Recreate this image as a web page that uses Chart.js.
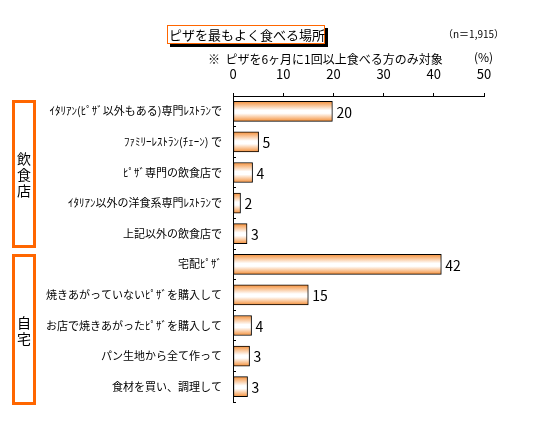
<!DOCTYPE html>
<html lang="ja">
<head>
<meta charset="utf-8">
<script src="https://cdn.jsdelivr.net/npm/chart.js@4/dist/chart.umd.min.js"></script>
<style>
  body { margin: 0; background: #fff; font-family: "Noto Sans CJK JP", sans-serif; }
  #wrap { position: relative; width: 534px; height: 428px; }
  #wrap canvas { position: absolute; left: 0; top: 0; }
  .txt { position: absolute; color: #000; white-space: nowrap; line-height: 1; }
  #title {
    left: 167px; top: 25px; width: 155px; height: 17px;
    border: 1px solid #FF6600; background: #fff;
    box-shadow: 3px 3px 0 #000;
    font-size: 13px; line-height: 17px; padding-left: 1px;
  }
  .group {
    position: absolute; left: 12px; width: 18px;
    border: 3px solid #FF6600;
    display: flex; align-items: center; justify-content: center;
    font-size: 14px; line-height: 16px; text-align: center;
  }
</style>
</head>
<body>
<div id="wrap">
  <canvas id="chart" width="534" height="428"></canvas>
  <div class="txt" id="title">ピザを最もよく食べる場所</div>
  <div class="txt" style="left:443px; top:29px; font-size:10px;">（n＝1,915）</div>
  <div class="txt" style="left:208px; top:53px; font-size:12px;">※&nbsp;&nbsp;ピザを6ヶ月に1回以上食べる方のみ対象</div>
  <div class="txt" style="left:474px; top:51px; font-size:12px;">(%)</div>
  <div class="group" style="top:100px; height:142px;">飲<br>食<br>店</div>
  <div class="group" style="top:254px; height:145px;">自<br>宅</div>
</div>
<script>
// --- data ---
const categories = [
  'ｲﾀﾘｱﾝ(ﾋﾟｻﾞ以外もある)専門ﾚｽﾄﾗﾝで',
  'ﾌｧﾐﾘｰﾚｽﾄﾗﾝ(ﾁｪｰﾝ) で',
  'ﾋﾟｻﾞ専門の飲食店で',
  'ｲﾀﾘｱﾝ以外の洋食系専門ﾚｽﾄﾗﾝで',
  '上記以外の飲食店で',
  '宅配ﾋﾟｻﾞ',
  '焼きあがっていないﾋﾟｻﾞを購入して',
  'お店で焼きあがったﾋﾟｻﾞを購入して',
  'パン生地から全て作って',
  '食材を買い、調理して',
];
const shares = [19.8, 5.1, 3.9, 1.5, 2.8, 41.5, 15.0, 3.7, 3.3, 2.9];
const valueLabels = ['20', '5', '4', '2', '3', '42', '15', '4', '3', '3'];
const xTicks = [0, 10, 20, 30, 40, 50];

const FONT = '"Noto Sans CJK JP", sans-serif';
const ORANGE = '#F4903A';
const BAR_H = 20;

// vertical orange-white-orange fill per bar, placed from the y scale
function barFill(ctx) {
  const chart = ctx.chart;
  const yScale = chart.scales && chart.scales.y;
  if (ctx.type !== 'data' || !yScale || !chart.chartArea) return ORANGE;
  const cy = yScale.getPixelForValue(ctx.dataIndex);
  const g = chart.ctx.createLinearGradient(0, cy - BAR_H / 2, 0, cy + BAR_H / 2);
  g.addColorStop(0, ORANGE);
  g.addColorStop(0.45, '#FFFFFF');
  g.addColorStop(0.6, '#FFFFFF');
  g.addColorStop(1, ORANGE);
  return g;
}

// numbers to the right of each bar
const valueLabelPlugin = {
  id: 'valueLabels',
  afterDatasetsDraw(chart) {
    const c = chart.ctx;
    const meta = chart.getDatasetMeta(0);
    c.save();
    c.fillStyle = '#000';
    c.font = '14px ' + FONT;
    c.textAlign = 'left';
    c.textBaseline = 'middle';
    meta.data.forEach((bar, i) => {
      c.fillText(valueLabels[i], bar.x + 4, bar.y + 1);
    });
    c.restore();
  },
};

new Chart(document.getElementById('chart'), {
  type: 'bar',
  data: {
    labels: categories,
    datasets: [{
      data: shares,
      backgroundColor: barFill,
      borderColor: '#000',
      borderWidth: 1,
      borderSkipped: false,
      barThickness: BAR_H,
    }],
  },
  plugins: [valueLabelPlugin],
  options: {
    indexAxis: 'y',
    responsive: false,
    animation: false,
    events: [],
    layout: { padding: { top: 56, bottom: 26, left: 0, right: 50 } },
    plugins: { legend: { display: false }, tooltip: { enabled: false } },
    scales: {
      x: {
        position: 'top',
        min: 0,
        max: 50,
        afterBuildTicks: s => { s.ticks = xTicks.map(v => ({ value: v })); },
        afterFit: s => { s.height = 40; },
        ticks: { color: '#000', font: { size: 13, family: FONT }, padding: 11 },
        grid: { drawOnChartArea: false, tickLength: 3, color: '#000' },
        border: { color: '#000', width: 1 },
      },
      y: {
        afterFit: s => { s.width = 233; },
        ticks: { color: '#000', font: { size: 11, family: FONT }, padding: 14, autoSkip: false },
        grid: { drawOnChartArea: false, offset: true, tickLength: -3, color: '#000' },
        border: { color: '#000', width: 1 },
      },
    },
  },
});
</script>
</body>
</html>
